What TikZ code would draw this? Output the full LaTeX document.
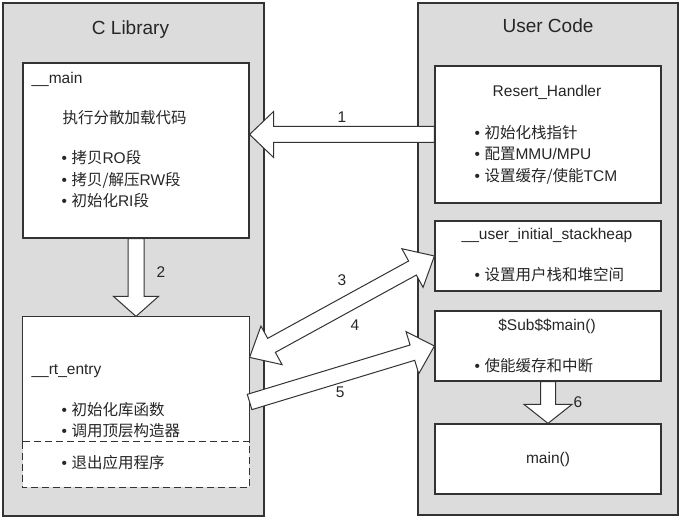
\documentclass[tikz,border=0pt]{standalone}
\usepackage{fontspec}
\setmainfont{Liberation Sans}
\newfontfamily\cjk{Noto Sans CJK SC}
\usepackage{tikz}
\usetikzlibrary{calc, positioning}
\definecolor{panelgray}{HTML}{DCDCDC}
\definecolor{edgegray}{HTML}{333333}
\tikzstyle{panel} = [draw=edgegray, line width=2pt, fill=panelgray, rectangle, inner sep=0pt]
\tikzstyle{block} = [draw=edgegray, line width=1.2pt, fill=white, rectangle,
    inner sep=0pt, minimum width=226pt]
\tikzstyle{txt} = [inner sep=0pt, text=black!85, font=\fontsize{15.5}{21.5}\selectfont]
\tikzstyle{bigarrow} = [draw=edgegray, line width=1pt, fill=white, line join=miter]
\newcommand{\zh}[1]{{\cjk #1}}
\newcommand{\bul}{•\hspace{4.5pt}}
% #1 tail, #2 tip, #3 half shaft, #4 half head, #5 head length
\newcommand{\blockarrow}[5]{%
    \coordinate (ba-n) at ($(#2)!#5!(#1)$);
    \draw [bigarrow] ($(#1)!#3!90:(#2)$) -- ($(ba-n)!#3!90:(#2)$) -- ($(ba-n)!#4!90:(#2)$)
        -- (#2) -- ($(ba-n)!#4!-90:(#2)$) -- ($(ba-n)!#3!-90:(#2)$) -- ($(#1)!#3!-90:(#2)$) -- cycle;}
\newcommand{\dblarrow}[5]{%
    \coordinate (ba-m) at ($(#1)!#5!(#2)$);
    \coordinate (ba-n) at ($(#2)!#5!(#1)$);
    \draw [bigarrow] (#1) -- ($(ba-m)!#4!90:(#2)$) -- ($(ba-m)!#3!90:(#2)$) -- ($(ba-n)!#3!90:(#2)$)
        -- ($(ba-n)!#4!90:(#2)$) -- (#2) -- ($(ba-n)!#4!-90:(#2)$) -- ($(ba-n)!#3!-90:(#2)$)
        -- ($(ba-m)!#3!-90:(#2)$) -- ($(ba-m)!#4!-90:(#2)$) -- cycle;}

\begin{document}
\begin{tikzpicture}[x=1pt, y=1pt]
    \useasboundingbox (0,0) rectangle (683,518);
    % the two panels
    \node [panel, minimum width=261pt, minimum height=513pt] (clib) at (133.5,258.5) {};
    \node [panel, minimum width=260pt, minimum height=512pt] (user) at (548,259) {};
    \node [txt, font=\fontsize{19}{22}\selectfont] (clibtitle) at ($(clib.north)+(-3,-28)$) {C Library};
    \node [txt, font=\fontsize{19}{22}\selectfont] (usertitle) at ($(user.north)+(0,-24)$) {User Code};

    % C library side
    \node [block, minimum height=175pt] (mainbox) at (136,367.5) {};
    \node [txt, anchor=west] (mainname) at ($(mainbox.north west)+(9,-17)$) {\_\_main};
    \node [txt, anchor=west] (scatter) at ($(mainbox.north west)+(40,-55)$) {\zh{执行分散加载代码}};
    \node [txt, anchor=west, align=left] (mainlist) at ($(mainbox.north west)+(39,-117)$)
        {\bul\zh{拷贝}RO\zh{段}\\ \bul\zh{拷贝/解压}RW\zh{段}\\ \bul\zh{初始化}RI\zh{段}};

    \node [block, draw=none, minimum height=170pt] (rtbox) at (136,116) {};
    \coordinate (cutL) at ($(rtbox.south west)+(0,46)$);
    \coordinate (cutR) at ($(rtbox.south east)+(0,46)$);
    \draw [edgegray, line width=1.2pt] (cutL) -- (rtbox.north west) -- (rtbox.north east) -- (cutR);
    \draw [edgegray, line width=1.2pt, dash pattern=on 7pt off 4pt] (cutL) -- (rtbox.south west)
        -- (rtbox.south east) -- (cutR) -- cycle;
    \node [txt, anchor=west] (rtname) at ($(rtbox.north west)+(9,-55)$) {\_\_rt\_entry};
    \node [txt, anchor=west, align=left] (rtlist) at ($(rtbox.north west)+(39,-104)$)
        {\bul\zh{初始化库函数}\\ \bul\zh{调用顶层构造器}};
    \node [txt, anchor=west] (rtexit) at ($(rtbox.north west)+(39,-146)$) {\bul\zh{退出应用程序}};

    % user code side
    \node [block, minimum height=137pt] (reset) at (548,383.5) {};
    \node [txt] (resetname) at ($(reset.north)+(-1,-27)$) {Resert\_Handler};
    \node [txt, anchor=west, align=left] (resetlist) at ($(reset.north west)+(40,-89)$)
        {\bul\zh{初始化栈指针}\\ \bul\zh{配置}MMU/MPU\\ \bul\zh{设置缓存/使能}TCM};

    \node [block, minimum height=70pt] (heapbox) at (548,262) {};
    \node [txt] (heapname) at ($(heapbox.north)+(-1,-15)$) {\_\_user\_initial\_stackheap};
    \node [txt, anchor=west] (heaplist) at ($(heapbox.north west)+(40,-54)$) {\bul\zh{设置用户栈和堆空间}};

    \node [block, minimum height=70pt] (subbox) at (548,172) {};
    \node [txt] (subname) at ($(subbox.north)+(-1,-16)$) {\$Sub\$\$main()};
    \node [txt, anchor=west] (sublist) at ($(subbox.north west)+(40,-55)$) {\bul\zh{使能缓存和中断}};

    \node [block, minimum height=70pt] (mainfn) at (548,59) {};
    \node [txt] (mainfnname) at (mainfn) {main()};

    % numbered arrows
    \coordinate (a1) at (mainbox.east |- reset.west);
    \blockarrow{reset.west}{a1}{8pt}{23pt}{24pt}
    \path (reset.west) -- (a1) node [txt, midway, yshift=17pt] (n1) {1};
    \blockarrow{mainbox.south}{rtbox.north}{8pt}{22.5pt}{20pt}
    \path (mainbox.south) -- (rtbox.north) node [txt, midway, xshift=25pt, yshift=5pt] (n2) {2};
    \coordinate (rtin) at ($(rtbox.north east)+(0,-41)$);
    \dblarrow{rtin}{heapbox.west}{8pt}{22pt}{25pt}
    \path (rtin) -- (heapbox.west) node [txt, midway, yshift=27pt] (n3) {3}
        node [txt, pos=0.57, yshift=-26pt] (n4) {4};
    \blockarrow{rtbox.east}{subbox.west}{8pt}{22pt}{23pt}
    \path (rtbox.east) -- (subbox.west) node [txt, pos=0.49, yshift=-18pt] (n5) {5};
    \blockarrow{subbox.south}{mainfn.north}{7.5pt}{24pt}{19pt}
    \path (subbox.south) -- (mainfn.north) node [txt, midway, xshift=30pt] (n6) {6};
\end{tikzpicture}
\end{document}
